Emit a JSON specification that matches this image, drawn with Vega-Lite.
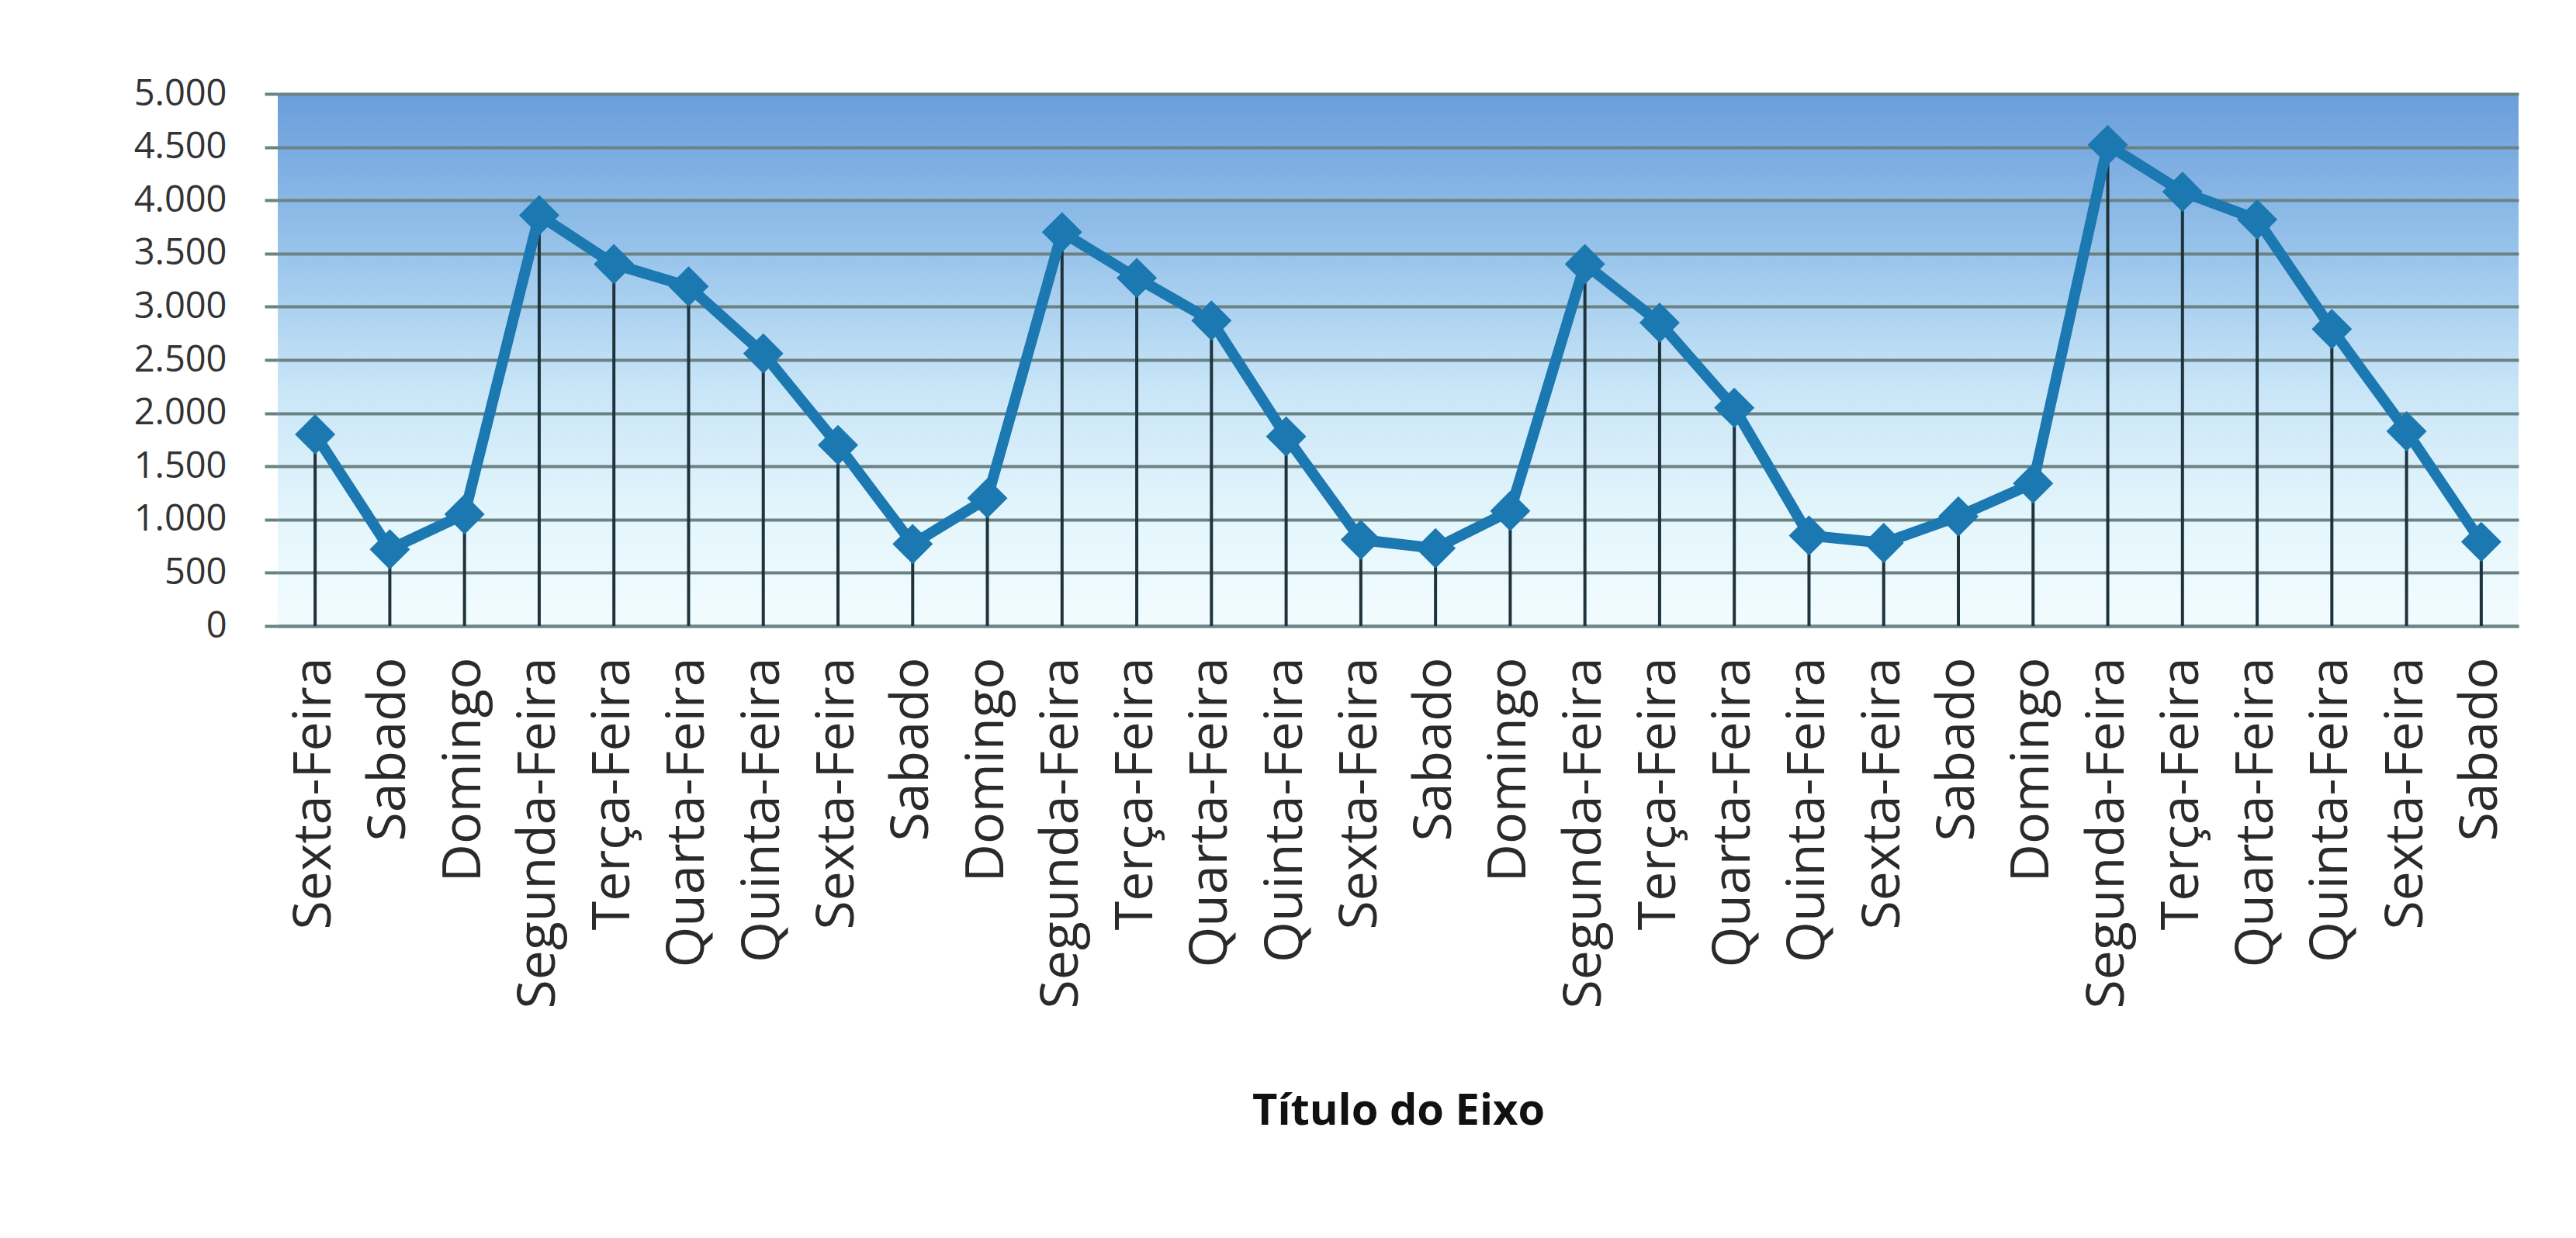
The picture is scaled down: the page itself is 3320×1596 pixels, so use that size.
{
  "$schema": "https://vega.github.io/schema/vega-lite/v6.json",
  "width": 2888,
  "height": 686,
  "autosize": "none",
  "padding": {"left": 358, "top": 121, "right": 74, "bottom": 789},
  "background": "white",
  "data": {
    "values": [
      {"n": 1, "dia": "Sexta-Feira", "valor": 1800},
      {"n": 2, "dia": "Sabado", "valor": 720},
      {"n": 3, "dia": "Domingo", "valor": 1050},
      {"n": 4, "dia": "Segunda-Feira", "valor": 3860},
      {"n": 5, "dia": "Terça-Feira", "valor": 3400},
      {"n": 6, "dia": "Quarta-Feira", "valor": 3190},
      {"n": 7, "dia": "Quinta-Feira", "valor": 2560},
      {"n": 8, "dia": "Sexta-Feira", "valor": 1700},
      {"n": 9, "dia": "Sabado", "valor": 770},
      {"n": 10, "dia": "Domingo", "valor": 1200},
      {"n": 11, "dia": "Segunda-Feira", "valor": 3700},
      {"n": 12, "dia": "Terça-Feira", "valor": 3270},
      {"n": 13, "dia": "Quarta-Feira", "valor": 2870},
      {"n": 14, "dia": "Quinta-Feira", "valor": 1780},
      {"n": 15, "dia": "Sexta-Feira", "valor": 810},
      {"n": 16, "dia": "Sabado", "valor": 730},
      {"n": 17, "dia": "Domingo", "valor": 1080},
      {"n": 18, "dia": "Segunda-Feira", "valor": 3400},
      {"n": 19, "dia": "Terça-Feira", "valor": 2850},
      {"n": 20, "dia": "Quarta-Feira", "valor": 2050},
      {"n": 21, "dia": "Quinta-Feira", "valor": 850},
      {"n": 22, "dia": "Sexta-Feira", "valor": 780},
      {"n": 23, "dia": "Sabado", "valor": 1030},
      {"n": 24, "dia": "Domingo", "valor": 1340},
      {"n": 25, "dia": "Segunda-Feira", "valor": 4520},
      {"n": 26, "dia": "Terça-Feira", "valor": 4080},
      {"n": 27, "dia": "Quarta-Feira", "valor": 3820},
      {"n": 28, "dia": "Quinta-Feira", "valor": 2790},
      {"n": 29, "dia": "Sexta-Feira", "valor": 1830},
      {"n": 30, "dia": "Sabado", "valor": 790}
    ]
  },
  "encoding": {
    "x": {
      "field": "n",
      "type": "ordinal",
      "sort": "ascending",
      "axis": {
        "title": "Título do Eixo",
        "titleFont": "Open Sans",
        "titleFontSize": 56,
        "titleFontWeight": "bold",
        "titleColor": "#111111",
        "titleY": 598,
        "titleBaseline": "top",
        "labelExpr": "['Sexta-Feira','Sabado','Domingo','Segunda-Feira','Terça-Feira','Quarta-Feira','Quinta-Feira','Sexta-Feira','Sabado','Domingo','Segunda-Feira','Terça-Feira','Quarta-Feira','Quinta-Feira','Sexta-Feira','Sabado','Domingo','Segunda-Feira','Terça-Feira','Quarta-Feira','Quinta-Feira','Sexta-Feira','Sabado','Domingo','Segunda-Feira','Terça-Feira','Quarta-Feira','Quinta-Feira','Sexta-Feira','Sabado'][datum.value - 1]",
        "labelAngle": -90,
        "labelFont": "Open Sans",
        "labelFontSize": 68,
        "labelColor": "#2a2a2a",
        "labelPadding": 40,
        "labelLimit": 2000,
        "labelOverlap": false,
        "ticks": false,
        "grid": false,
        "domain": true,
        "domainColor": "#6f8587",
        "domainWidth": 4
      }
    },
    "y": {
      "field": "valor",
      "type": "quantitative",
      "scale": {"domain": [0, 5000], "nice": false},
      "axis": {
        "title": null,
        "values": [0, 500, 1000, 1500, 2000, 2500, 3000, 3500, 4000, 4500, 5000],
        "format": ",d",
        "labelFont": "Open Sans",
        "labelFontSize": 47,
        "labelColor": "#333333",
        "labelPadding": 49,
        "tickSize": 17,
        "tickColor": "#6a8283",
        "tickWidth": 4,
        "grid": true,
        "gridColor": "#6a8283",
        "gridWidth": 4,
        "domain": false
      }
    }
  },
  "layer": [
    {
      "mark": {"type": "rule", "color": "#1f333c", "strokeWidth": 4},
      "encoding": {"y2": {"datum": 0}}
    },
    {
      "mark": {"type": "line", "color": "#1b78b0", "strokeWidth": 14, "strokeJoin": "round"},
      "encoding": {}
    },
    {
      "mark": {"type": "point", "shape": "diamond", "filled": true, "color": "#1b78b0", "size": 2700, "opacity": 1},
      "encoding": {}
    }
  ],
  "config": {
    "locale": {"number": {"decimal": ",", "thousands": ".", "grouping": [3], "currency": ["R$", ""]}},
    "view": {
      "stroke": null,
      "fill": {
        "gradient": "linear",
        "x1": 0, "y1": 0, "x2": 0, "y2": 1,
        "stops": [
          {"offset": 0, "color": "#6a9edb"},
          {"offset": 0.3, "color": "#98c4eb"},
          {"offset": 0.55, "color": "#c8e5f7"},
          {"offset": 0.8, "color": "#e4f6fc"},
          {"offset": 1, "color": "#f2fcff"}
        ]
      }
    }
  }
}
